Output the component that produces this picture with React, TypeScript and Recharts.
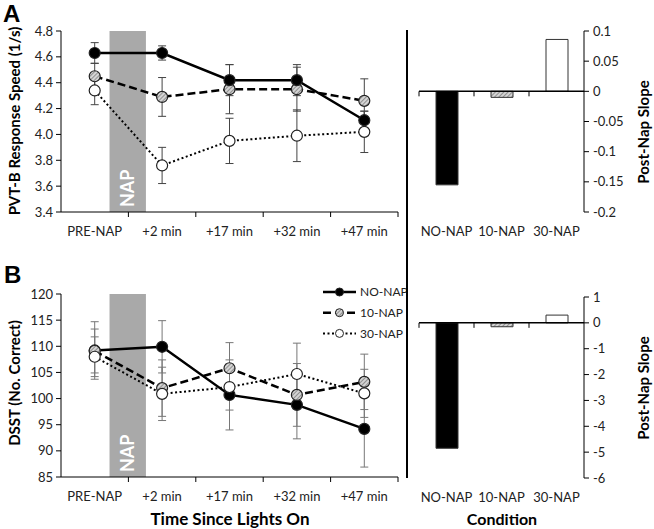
import React from "react";
import {
  LineChart,
  Line,
  BarChart,
  Bar,
  Cell,
  XAxis,
  YAxis,
  ErrorBar,
  ReferenceArea,
  ReferenceLine,
} from "recharts";

const timePoints = ["PRE-NAP", "+2 min", "+17 min", "+32 min", "+47 min"];
const conditions = ["NO-NAP", "10-NAP", "30-NAP"];

// panel A: PVT-B response speed (1/s), mean and error
const pvtNoNap = [4.63, 4.63, 4.42, 4.42, 4.11];
const pvtNoNapErr = [0.08, 0.055, 0.12, 0.12, 0.07];
const pvt10Nap = [4.45, 4.29, 4.35, 4.35, 4.26];
const pvt10NapErr = [0.1, 0.15, 0.19, 0.17, 0.17];
const pvt30Nap = [4.34, 3.76, 3.95, 3.99, 4.02];
const pvt30NapErr = [0.11, 0.14, 0.175, 0.2, 0.16];
const pvtSlopes = [-0.155, -0.01, 0.086];

// panel B: DSST (no. correct)
const dsstNoNap = [109.2, 109.9, 100.7, 98.8, 94.2];
const dsstNoNapErr = [5.5, 5.0, 6.7, 6.5, 7.3];
const dsst10Nap = [109.1, 102.0, 105.8, 100.7, 103.2];
const dsst10NapErr = [4.2, 5.4, 4.9, 6.0, 5.3];
const dsst30Nap = [108.0, 100.9, 102.2, 104.7, 101.0];
const dsst30NapErr = [3.8, 5.1, 4.4, 5.9, 4.6];
const dsstSlopes = [-4.85, -0.15, 0.3];

const pvtTicks = [3.4, 3.6, 3.8, 4.0, 4.2, 4.4, 4.6, 4.8];
const dsstTicks = [85, 90, 95, 100, 105, 110, 115, 120];
const pvtSlopeTicks = [-0.2, -0.15, -0.1, -0.05, 0, 0.05, 0.1];
const dsstSlopeTicks = [-6, -5, -4, -3, -2, -1, 0, 1];

// nap window sits between PRE-NAP and +2 min
const napStart = 0.22;
const napEnd = 0.76;

const FONT = "Lato, 'Open Sans', sans-serif";
const TICK_FILL = "#222";

const LINE_W = 400;
const Y_AXIS_W = 61;
const HALF_BAND = (LINE_W - Y_AXIS_W - 2) / timePoints.length / 2;

type Series = {
  key: string;
  name: string;
  dash?: string;
  width: number;
  fill: string;
};

const series = (hatch: string): Series[] => [
  { key: "no", name: "NO-NAP", width: 2.5, fill: "#000" },
  { key: "ten", name: "10-NAP", dash: "8 4", width: 2.5, fill: `url(#${hatch})` },
  { key: "thirty", name: "30-NAP", dash: "2 2.5", width: 2, fill: "#fff" },
];

function buildRows(
  no: number[],
  noErr: number[],
  ten: number[],
  tenErr: number[],
  thirty: number[],
  thirtyErr: number[]
) {
  return timePoints.map((label, i) => ({
    x: i,
    label,
    no: no[i],
    noErr: noErr[i],
    ten: ten[i],
    tenErr: tenErr[i],
    thirty: thirty[i],
    thirtyErr: thirtyErr[i],
  }));
}

function Hatch({ id }: { id: string }) {
  return (
    <defs>
      <pattern id={id} patternUnits="userSpaceOnUse" width="3" height="3" patternTransform="rotate(45)">
        <rect width="3" height="3" fill="#d4d4d4" />
        <line x1="0" y1="0" x2="0" y2="3" stroke="#6a6a6a" strokeWidth="1.3" />
      </pattern>
    </defs>
  );
}

function NapLabel(props: any) {
  const vb = props.viewBox;
  if (!vb) return null;
  const cx = vb.x + vb.width / 2;
  const by = vb.y + vb.height - 5;
  return (
    <text
      x={cx}
      y={by}
      dy="0.36em"
      transform={`rotate(-90, ${cx}, ${by})`}
      textAnchor="start"
      fontSize={18}
      fontWeight="bold"
      fill="#fff"
    >
      NAP
    </text>
  );
}

function TimeTick(props: any) {
  const { x, y, payload } = props;
  return (
    <g>
      <line x1={x + HALF_BAND} x2={x + HALF_BAND} y1={y} y2={y + 5} stroke="#000" />
      <text x={x} y={y + 24} textAnchor="middle" fontSize={13} fill={TICK_FILL}>
        {timePoints[payload.value]}
      </text>
    </g>
  );
}

function CondTick(props: any) {
  const { x, y, payload } = props;
  return (
    <text x={x} y={y + 24} textAnchor="middle" fontSize={13} fill={TICK_FILL}>
      {conditions[payload.value]}
    </text>
  );
}

interface TimeCourseProps {
  rows: ReturnType<typeof buildRows>;
  domain: [number, number];
  ticks: number[];
  fmt: (v: number) => string;
  height: number;
  top: number;
  xAxisHeight: number;
  hatch: string;
  order: string[];
  errColor: string;
}

function TimeCourse({ rows, domain, ticks, fmt, height, top, xAxisHeight, hatch, order, errColor }: TimeCourseProps) {
  const list = series(hatch);
  const ordered = order.map((k) => list.find((s) => s.key === k)!);
  return (
    <LineChart width={LINE_W} height={height} data={rows} margin={{ top, right: 2, bottom: 0, left: 0 }}>
      <Hatch id={hatch} />
      <XAxis
        dataKey="x"
        type="number"
        domain={[-0.5, 4.5]}
        ticks={[0, 1, 2, 3, 4]}
        tickLine={false}
        tickSize={0}
        tickMargin={0}
        height={xAxisHeight}
        axisLine={{ stroke: "#000" }}
        tick={(p: any) => <TimeTick {...p} />}
      />
      <YAxis
        width={Y_AXIS_W}
        domain={domain}
        ticks={ticks}
        tickSize={5}
        tickMargin={3}
        axisLine={{ stroke: "#000" }}
        tickLine={{ stroke: "#000" }}
        tick={{ fontSize: 13, fill: TICK_FILL }}
        tickFormatter={fmt}
        allowDataOverflow
      />
      <ReferenceArea x1={napStart} x2={napEnd} fill="#a9a9a9" fillOpacity={1} stroke="none" label={(p: any) => <NapLabel {...p} />} />
      {ordered.map((s) => (
        <Line
          key={s.key}
          dataKey={s.key}
          stroke="#000"
          strokeWidth={s.width}
          strokeDasharray={s.dash}
          dot={{ r: 5.5, fill: s.fill, stroke: "#222", strokeWidth: 1.2, strokeDasharray: "none" }}
          isAnimationActive={false}
        >
          <ErrorBar dataKey={`${s.key}Err`} direction="y" width={4} stroke={errColor} strokeWidth={1} />
        </Line>
      ))}
    </LineChart>
  );
}

interface SlopeProps {
  values: number[];
  domain: [number, number];
  ticks: number[];
  height: number;
  top: number;
  xAxisHeight: number;
  hatch: string;
}

function SlopeChart({ values, domain, ticks, height, top, xAxisHeight, hatch }: SlopeProps) {
  const rows = conditions.map((c, i) => ({ x: i, name: c, slope: values[i] }));
  const plotH = height - top - xAxisHeight;
  const tickLen = ((domain[1] - domain[0]) * 5) / plotH;
  const fills = ["#000", `url(#${hatch})`, "#fff"];
  return (
    <BarChart width={254} height={height} data={rows} margin={{ top, right: 0, bottom: 0, left: 19 }}>
      <Hatch id={hatch} />
      <XAxis
        dataKey="x"
        type="number"
        domain={[-0.5, 2.5]}
        ticks={[0, 1, 2]}
        axisLine={false}
        tickLine={false}
        tickSize={0}
        tickMargin={0}
        height={xAxisHeight}
        tick={(p: any) => <CondTick {...p} />}
        allowDataOverflow
      />
      <YAxis
        orientation="right"
        width={70}
        domain={domain}
        ticks={ticks}
        tickSize={5}
        tickMargin={4}
        axisLine={{ stroke: "#000" }}
        tickLine={{ stroke: "#000" }}
        tick={{ fontSize: 13, fill: TICK_FILL, textAnchor: "start" }}
        tickFormatter={(v: number) => String(Math.round(v * 100) / 100)}
        allowDataOverflow
      />
      <Bar dataKey="slope" barSize={22} stroke="#333" strokeWidth={1} isAnimationActive={false}>
        {rows.map((r, i) => (
          <Cell key={r.name} fill={fills[i]} />
        ))}
      </Bar>
      <ReferenceLine y={0} stroke="#000" strokeWidth={1.5} />
      {[-0.5, 0.5, 1.5].map((b) => (
        <ReferenceLine
          key={b}
          segment={[
            { x: b, y: 0 },
            { x: b, y: -tickLen },
          ]}
          stroke="#000"
          strokeWidth={1}
        />
      ))}
    </BarChart>
  );
}

function LegendBox() {
  const list = series("hatchLegend");
  return (
    <svg width={100} height={60} style={{ position: "absolute", left: 318, top: 281 }}>
      <Hatch id="hatchLegend" />
      {list.map((s, i) => {
        const y = 11 + i * 20.7;
        return (
          <g key={s.key}>
            <line x1={5} x2={38} y1={y} y2={y} stroke="#000" strokeWidth={s.width} strokeDasharray={s.dash} />
            <circle cx={21.5} cy={y} r={4} fill={s.fill} stroke="#222" strokeWidth={1} />
            <text x={42} y={y} dy="0.35em" fontSize={12} fill="#222">
              {s.name}
            </text>
          </g>
        );
      })}
    </svg>
  );
}

const abs = (left: number, top: number): React.CSSProperties => ({ position: "absolute", left, top });

function VTitle({ x, y, text }: { x: number; y: number; text: string }) {
  return (
    <div
      style={{
        ...abs(x, y),
        transform: "translate(-50%, -50%) rotate(-90deg)",
        whiteSpace: "nowrap",
        fontWeight: "bold",
        fontSize: 15,
        color: "#000",
      }}
    >
      {text}
    </div>
  );
}

function HTitle({ x, y, text, size }: { x: number; y: number; text: string; size: number }) {
  return (
    <div
      style={{
        ...abs(x, y),
        transform: "translate(-50%, -50%)",
        whiteSpace: "nowrap",
        fontWeight: "bold",
        fontSize: size,
        color: "#000",
      }}
    >
      {text}
    </div>
  );
}

const letterStyle: React.CSSProperties = {
  fontFamily: "'Liberation Sans', Arial, sans-serif",
  fontSize: 24,
  fontWeight: "bold",
  color: "#000",
};

export default function App() {
  const rowsA = buildRows(pvtNoNap, pvtNoNapErr, pvt10Nap, pvt10NapErr, pvt30Nap, pvt30NapErr);
  const rowsB = buildRows(dsstNoNap, dsstNoNapErr, dsst10Nap, dsst10NapErr, dsst30Nap, dsst30NapErr);
  return (
    <div
      style={{
        position: "absolute",
        left: 0,
        top: 0,
        width: 654,
        height: 529,
        background: "#fff",
        fontFamily: FONT,
        overflow: "hidden",
      }}
    >
      <div style={abs(0, 0)}>
        <TimeCourse
          rows={rowsA}
          domain={[3.4, 4.8]}
          ticks={pvtTicks}
          fmt={(v) => v.toFixed(1)}
          height={250}
          top={31}
          xAxisHeight={38}
          hatch="hatchA"
          order={["thirty", "ten", "no"]}
          errColor="#444"
        />
      </div>
      <div style={abs(400, 0)}>
        <SlopeChart values={pvtSlopes} domain={[-0.2, 0.1]} ticks={pvtSlopeTicks} height={250} top={31} xAxisHeight={38} hatch="hatchA2" />
      </div>
      <div style={abs(0, 250)}>
        <TimeCourse
          rows={rowsB}
          domain={[85, 120]}
          ticks={dsstTicks}
          fmt={(v) => String(v)}
          height={279}
          top={44}
          xAxisHeight={52}
          hatch="hatchB"
          order={["no", "ten", "thirty"]}
          errColor="#777"
        />
      </div>
      <div style={abs(400, 250)}>
        <SlopeChart values={dsstSlopes} domain={[-6, 1]} ticks={dsstSlopeTicks} height={279} top={47} xAxisHeight={51} hatch="hatchB2" />
      </div>
      <LegendBox />
      <div style={{ ...abs(406, 30), width: 2, height: 448, background: "#000" }} />
      <div style={{ ...abs(3, 0), ...letterStyle }}>A</div>
      <div style={{ ...abs(4, 261), ...letterStyle }}>B</div>
      <VTitle x={14} y={121} text="PVT-B Response Speed (1/s)" />
      <VTitle x={14} y={383} text="DSST (No. Correct)" />
      <VTitle x={643} y={132} text="Post-Nap Slope" />
      <VTitle x={643} y={388} text="Post-Nap Slope" />
      <HTitle x={230} y={518} text="Time Since Lights On" size={17} />
      <HTitle x={502} y={518} text="Condition" size={16} />
    </div>
  );
}
